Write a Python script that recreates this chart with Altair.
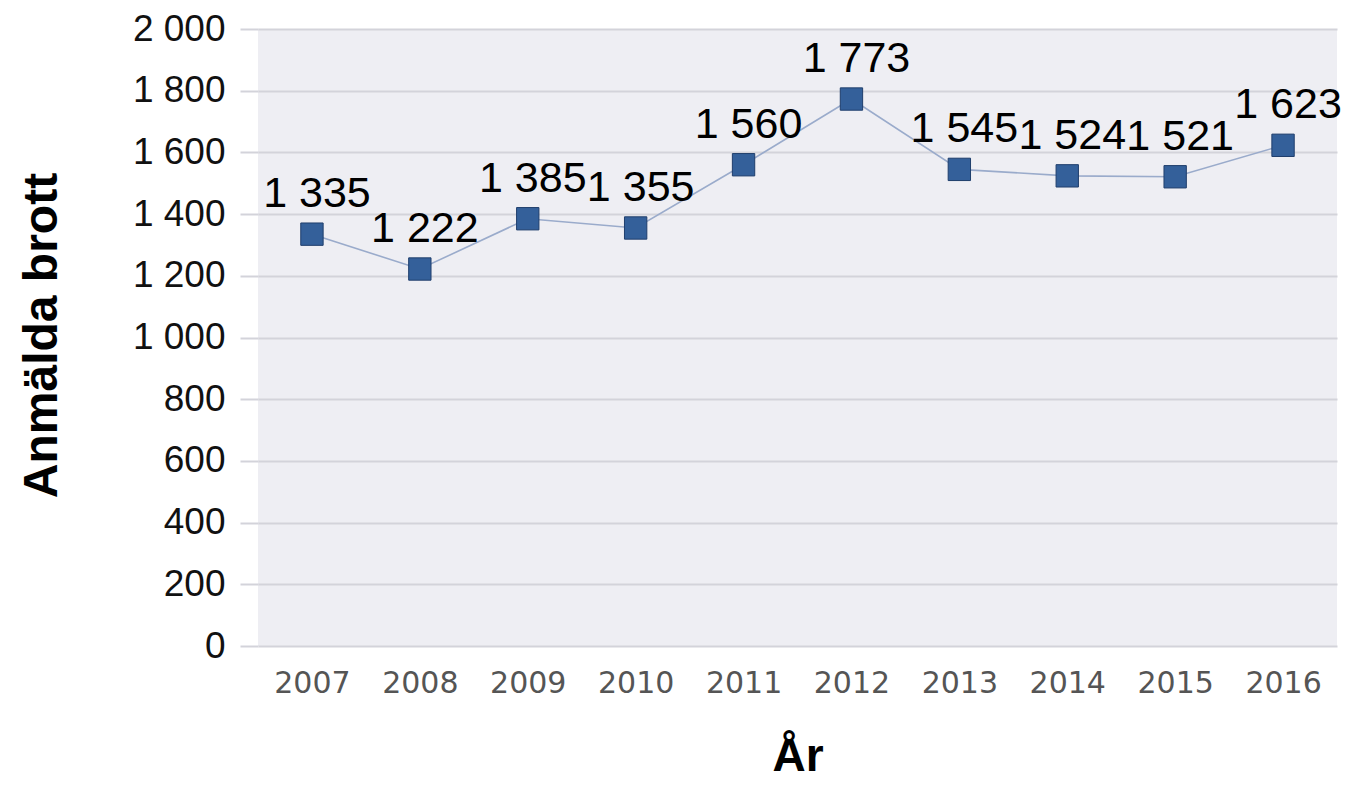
import altair as alt
import pandas as pd

years = ["2007", "2008", "2009", "2010", "2011", "2012", "2013", "2014", "2015", "2016"]
values = [1335, 1222, 1385, 1355, 1560, 1773, 1545, 1524, 1521, 1623]
labels = [f"{v:,}".replace(",", " ") for v in values]
y_ticks = [0, 200, 400, 600, 800, 1000, 1200, 1400, 1600, 1800, 2000]

df = pd.DataFrame({"year": years, "value": values, "label": labels})

grid_color = "#d3d3da"

x_enc = alt.X(
    "year:N",
    sort=years,
    scale=alt.Scale(type="point", padding=0.5),
    axis=alt.Axis(
        title="År",
        titleFont="Liberation Sans",
        titleFontWeight="bold",
        titleFontSize=46,
        titleColor="black",
        titleBaseline="alphabetic",
        titleY=124,
        labelFont="DejaVu Sans",
        labelFontSize=30,
        labelColor="#555555",
        labelAngle=0,
        labelBaseline="alphabetic",
        labelPadding=46,
        domain=False,
        ticks=False,
        tickSize=0,
        grid=False,
    ),
)

y_enc = alt.Y(
    "value:Q",
    scale=alt.Scale(domain=[0, 2000], nice=False),
    axis=alt.Axis(
        values=y_ticks,
        labelExpr="replace(format(datum.value, ','), ',', ' ')",
        title="Anmälda brott",
        titleFont="Liberation Sans",
        titleFontWeight="bold",
        titleFontSize=48,
        titleColor="black",
        titleAngle=270,
        titleBaseline="alphabetic",
        titleX=-202,
        titleY=306,
        labelFont="Liberation Sans",
        labelFontSize=37,
        labelColor="#111111",
        labelPadding=15,
        domain=False,
        ticks=True,
        tickSize=18,
        tickColor=grid_color,
        tickWidth=2,
        grid=True,
        gridColor=grid_color,
        gridWidth=2,
    ),
)

base = alt.Chart(df).encode(x=x_enc, y=y_enc)

line = base.mark_line(color="#9aabcb", strokeWidth=1.6)
points = base.mark_point(
    shape="square", filled=True, size=500, color="#34609a", stroke="#1f3e6c", strokeWidth=1, opacity=1
)
text = base.mark_text(
    font="Liberation Sans", fontSize=43, dy=-27, dx=5, baseline="alphabetic", color="black"
).encode(text="label:N")

chart = (
    alt.layer(line, points, text)
    .properties(
        width=1079,
        height=617,
        autosize=alt.AutoSizeParams(type="none"),
        padding={"left": 250, "top": 21, "right": 20, "bottom": 135},
        background="white",
    )
    .configure_view(fill="#eeeef3", strokeWidth=0)
)

chart.save("out.html", embed_options={"renderer": "svg", "actions": False})
